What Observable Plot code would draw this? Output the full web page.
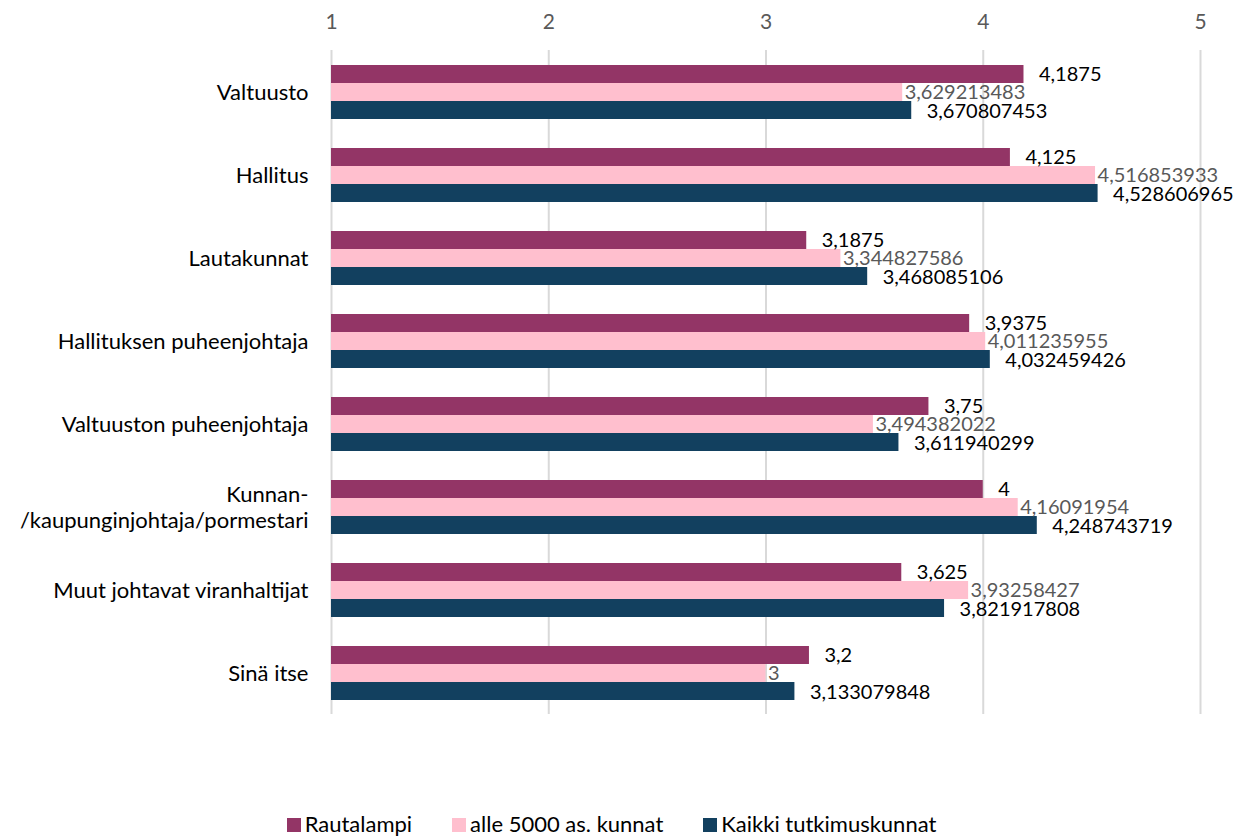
<!DOCTYPE html>
<html><head><meta charset="utf-8">
<script src="https://cdn.jsdelivr.net/npm/d3@7"></script>
<script src="https://cdn.jsdelivr.net/npm/@observablehq/plot@0.6"></script>
<style>
body{margin:0;background:#fff;font-family:Lato,"Open Sans",sans-serif;}
#legend{display:flex;justify-content:center;gap:40px;font-size:22px;color:#000;padding-top:20px;padding-right:14px;}
#legend span.sw{display:inline-block;width:14px;height:14px;margin-right:4px;vertical-align:0px;}
</style></head>
<body><div id="chart"></div><div id="legend"></div>
<script>
const categories = ["Valtuusto","Hallitus","Lautakunnat","Hallituksen puheenjohtaja","Valtuuston puheenjohtaja","Kunnan-\n/kaupunginjohtaja/pormestari","Muut johtavat viranhaltijat","Sinä itse"];
const seriesNames = ["Rautalampi","alle 5000 as. kunnat","Kaikki tutkimuskunnat"];
const colors = ["#933566","#FFBFCE","#12405F"];
const rautalampi = [4.1875,4.125,3.1875,3.9375,3.75,4,3.625,3.2];
const alle5000 = [3.629213483,4.516853933,3.344827586,4.011235955,3.494382022,4.16091954,3.93258427,3];
const kaikki = [3.670807453,4.528606965,3.468085106,4.032459426,3.611940299,4.248743719,3.821917808,3.133079848];
const xTicks = [1,2,3,4,5];

const seriesValues = [rautalampi, alle5000, kaikki];
const data = [];
categories.forEach((c,i)=>seriesNames.forEach((s,j)=>data.push({cat:c, series:s, value:seriesValues[j][i]})));
const fmt = v => String(v).replace(".", ",");

const chart = Plot.plot({
  width: 1237, height: 790,
  marginLeft: 331, marginRight: 37, marginTop: 48, marginBottom: 75,
  style: {fontFamily: "Lato, 'Open Sans', sans-serif", fontSize: "20px", color: "#000"},
  x: {domain: [1,5], axis: null},
  y: {domain: seriesNames, paddingInner: 0, paddingOuter: 0.73, axis: null},
  fy: {domain: categories, padding: 0, label: null},
  color: {domain: seriesNames, range: colors},
  marks: [
    Plot.ruleX(xTicks, {stroke: "#d9d9d9", strokeWidth: 2}),
    Plot.axisX(xTicks, {anchor: "top", tickSize: 0, tickPadding: 22, fill: "#595959", fontSize: 21, label: null, tickFormat: d => d}),
    Plot.axisFy({anchor: "left", tickSize: 0, tickPadding: 23, fontSize: 22, label: null, fill: "#000", lineHeight: 1.15}),
    Plot.barX(data, {x1: () => 1, x2: "value", y: "series", fy: "cat", fill: "series"}),
    Plot.text(data.filter(d => d.series === seriesNames[0]), {x: "value", y: "series", fy: "cat", text: d => fmt(d.value), textAnchor: "start", dx: 15, dy: 0, fill: "#000", fontSize: 20}),
    Plot.text(data.filter(d => d.series === seriesNames[1]), {x: "value", y: "series", fy: "cat", text: d => fmt(d.value), textAnchor: "start", dx: 2, dy: 0, fill: "#595959", fontSize: 20}),
    Plot.text(data.filter(d => d.series === seriesNames[2]), {x: "value", y: "series", fy: "cat", text: d => fmt(d.value), textAnchor: "start", dx: 15, dy: 1, fill: "#000", fontSize: 20})
  ]
});
document.getElementById("chart").appendChild(chart);

const legend = document.getElementById("legend");
seriesNames.forEach((s,i)=>{
  const item = document.createElement("div");
  item.innerHTML = `<span class="sw" style="background:${colors[i]}"></span>${s}`;
  legend.appendChild(item);
});
</script></body></html>
